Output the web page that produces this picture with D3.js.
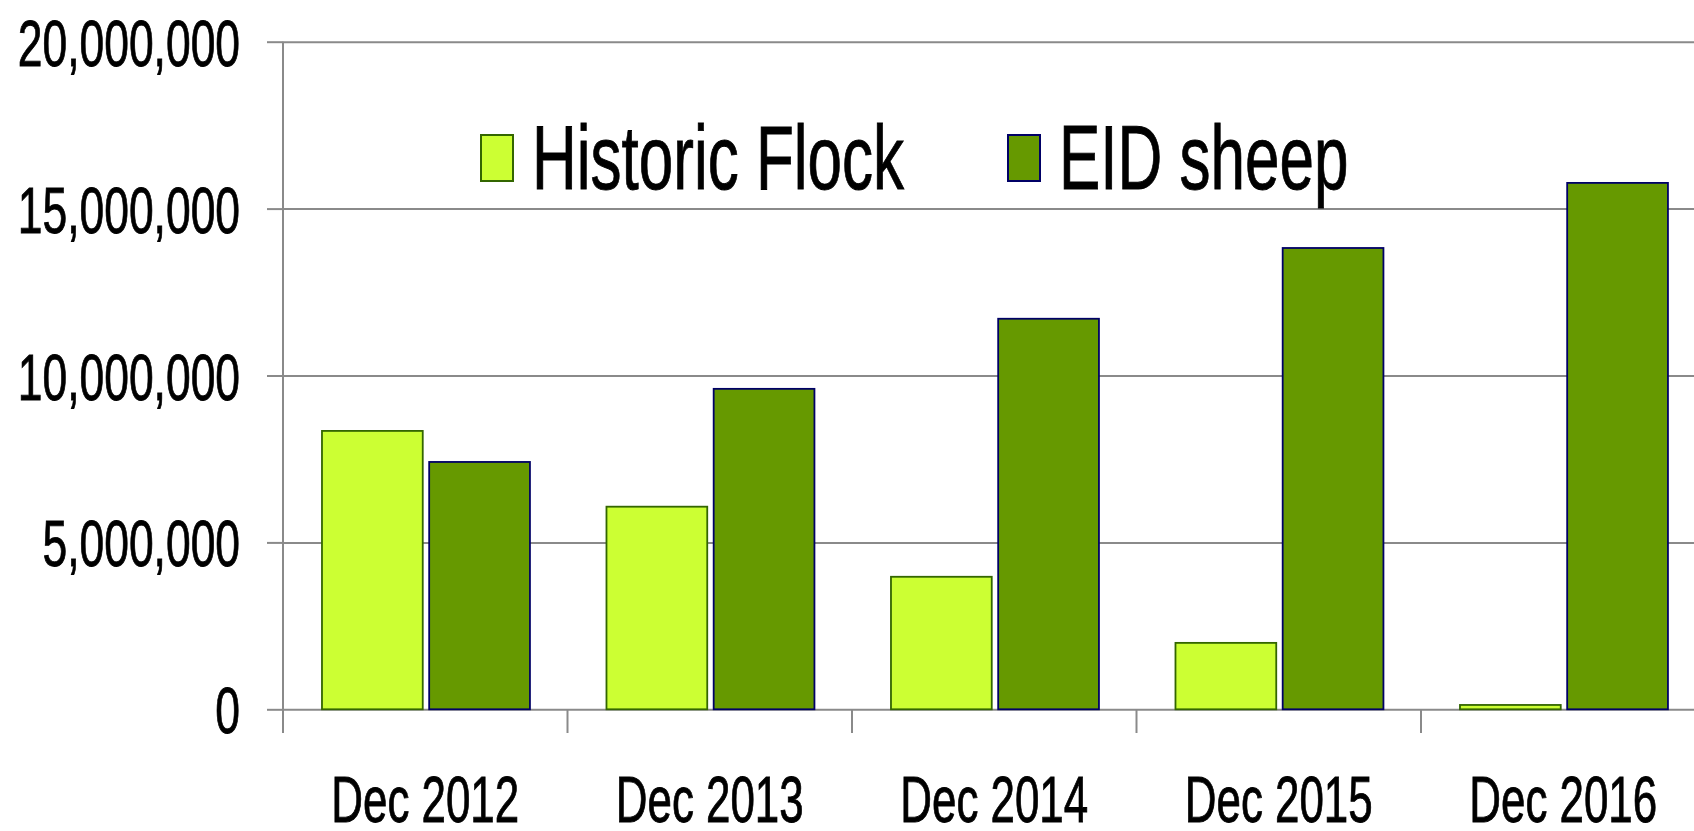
<!DOCTYPE html>
<html>
<head>
<meta charset="utf-8">
<script src="https://cdn.jsdelivr.net/npm/d3@7"></script>
<style>
  html, body { margin: 0; padding: 0; background: #fff; overflow: hidden; }
  svg { display: block; font-family: "Liberation Sans", Arial, sans-serif; }
  text { stroke: #000; stroke-width: 0.6px; }
</style>
</head>
<body>
<div id="chart"></div>
<script>
// data
const categories = ["Dec 2012", "Dec 2013", "Dec 2014", "Dec 2015", "Dec 2016"];
const seriesNames = ["Historic Flock", "EID sheep"];
const historicFlock = [8340000, 6070000, 3970000, 1990000, 130000];
const eidSheep = [7410000, 9600000, 11700000, 13820000, 15770000];
const yTicks = [0, 5000000, 10000000, 15000000, 20000000];

const fills = {"Historic Flock": "#ccff33", "EID sheep": "#669900"};
const strokes = {"Historic Flock": "#336600", "EID sheep": "#000066"};

const w = 1694, h = 831;
const stretch = 1.47; // text in the source is tall and narrow

const svg = d3.select("#chart").append("svg")
  .attr("width", w)
  .attr("height", h);

const y = d3.scaleLinear()
  .domain([0, 20000000])
  .range([709.3, 41.7]);

// plot runs off the right edge, like the original
const x0 = d3.scaleBand()
  .domain(categories)
  .range([283, 1705.5]);

const x1 = d3.scaleBand()
  .domain(seriesNames)
  .range([x0.bandwidth() * 0.137, x0.bandwidth() * 0.868])
  .paddingInner(0.06);

// grid
svg.append("g")
  .attr("transform", "translate(283,0)")
  .call(d3.axisLeft(y).tickValues(yTicks).tickSize(-(w - 283)).tickFormat(""))
  .call(g => g.select(".domain").remove())
  .selectAll("line")
  .attr("stroke", "#8a8a8a")
  .attr("stroke-width", 2);

// y axis with labels
const yAxis = svg.append("g")
  .attr("transform", "translate(283,0)")
  .call(d3.axisLeft(y).tickValues(yTicks).tickSize(16).tickPadding(27).tickFormat(d3.format(",")));
yAxis.select(".domain").remove();
yAxis.selectAll("line").attr("stroke", "#8a8a8a").attr("stroke-width", 2);
yAxis.selectAll("text")
  .attr("fill", "#000")
  .attr("font-size", 44.4)
  .attr("dy", "0.36em")
  .attr("transform", `scale(1,${stretch})`);

svg.append("line")
  .attr("x1", 283).attr("x2", 283)
  .attr("y1", y(20000000)).attr("y2", 733)
  .attr("stroke", "#8a8a8a")
  .attr("stroke-width", 2);

// category separators under the baseline
svg.append("g")
  .selectAll("line")
  .data(categories.slice(1))
  .join("line")
  .attr("x1", d => x0(d)).attr("x2", d => x0(d))
  .attr("y1", y(0)).attr("y2", 733)
  .attr("stroke", "#8a8a8a")
  .attr("stroke-width", 2);

// bars
const rows = categories.map((c, i) => ({cat: c, values: [
  {name: seriesNames[0], value: historicFlock[i]},
  {name: seriesNames[1], value: eidSheep[i]}
]}));

svg.append("g")
  .selectAll("g")
  .data(rows)
  .join("g")
  .attr("transform", d => `translate(${x0(d.cat)},0)`)
  .selectAll("rect")
  .data(d => d.values)
  .join("rect")
  .attr("x", d => x1(d.name))
  .attr("y", d => y(d.value))
  .attr("width", x1.bandwidth())
  .attr("height", d => y(0) - y(d.value))
  .attr("fill", d => fills[d.name])
  .attr("stroke", d => strokes[d.name])
  .attr("stroke-width", 1.8);

// x labels
svg.append("g")
  .selectAll("g")
  .data(categories)
  .join("g")
  .attr("transform", d => `translate(${x0(d) + x0.bandwidth() / 2},822) scale(1,${stretch})`)
  .append("text")
  .attr("text-anchor", "middle")
  .attr("font-size", 43.9)
  .text(d => d);

// legend
const legendX = [480, 1007];
const legend = svg.append("g")
  .selectAll("g")
  .data(seriesNames)
  .join("g")
  .attr("transform", (d, i) => `translate(${legendX[i]},0)`);

legend.append("rect")
  .attr("x", 1).attr("y", 135)
  .attr("width", 32).attr("height", 46)
  .attr("fill", d => fills[d])
  .attr("stroke", d => strokes[d])
  .attr("stroke-width", 2);

legend.append("g")
  .attr("transform", `translate(52,189) scale(1,${stretch})`)
  .append("text")
  .attr("font-size", 62)
  .text(d => d);
</script>
</body>
</html>
